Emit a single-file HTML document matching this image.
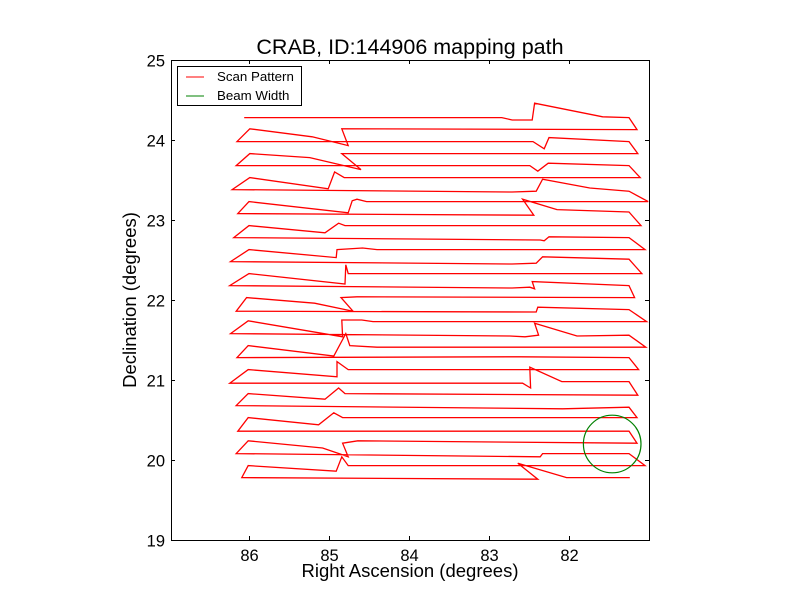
<!DOCTYPE html>
<html><head><meta charset="utf-8"><style>
body{margin:0;background:#fff;}
svg{display:block;font-family:"Liberation Sans","DejaVu Sans",sans-serif;}
</style></head><body>
<svg id="chart" width="800" height="600">
<rect width="800" height="600" fill="#fff"/>
<text x="410" y="54" font-size="21.5" text-anchor="middle">CRAB, ID:144906 mapping path</text>
<g id="plot"></g>
<g id="axes"></g>
<text x="410" y="577" font-size="18.5" text-anchor="middle">Right Ascension (degrees)</text>
<text x="136" y="300" font-size="18.5" text-anchor="middle" transform="rotate(-90 136 300)">Declination (degrees)</text>
<g>
<rect x="177.5" y="66.5" width="124" height="39" fill="#fff" stroke="#000" stroke-width="1"/>
<line x1="186" y1="77" x2="204" y2="77" stroke="#f00"/>
<text x="217" y="81" font-size="13.3">Scan Pattern</text>
<line x1="186" y1="96" x2="204" y2="96" stroke="#008000"/>
<text x="217" y="100" font-size="13.3">Beam Width</text>
</g>
</svg>
<script>
const xTicks = [86, 85, 84, 83, 82];
const yTicks = [19, 20, 21, 22, 23, 24, 25];
const xLim = [86.975, 81.0];
const yLim = [19, 25];
const scanRA = [86.06,82.84,82.71,82.46,82.43,81.58,81.25,
81.15,84.84,84.76,85.21,85.99,
86.15,82.45,82.31,82.25,81.25,
81.14,84.84,84.60,85.24,85.99,
86.16,82.49,82.39,82.26,81.25,
81.11,84.81,84.93,85.01,85.99,
86.21,82.71,82.41,82.33,81.74,81.25,
81.01,84.53,84.65,84.71,84.76,86.00,
86.14,82.44,82.58,82.15,81.25,
81.10,84.80,84.88,85.05,86.00,
86.19,82.36,82.31,82.25,81.25,
81.05,84.40,84.58,84.90,84.91,86.00,
86.23,82.71,82.41,82.33,81.25,
81.09,84.76,84.79,84.80,86.00,
86.24,82.71,82.49,82.43,82.46,81.25,
81.18,84.65,84.85,84.70,85.18,86.03,
86.16,82.41,82.39,81.25,
81.03,84.45,84.59,84.84,84.83,86.01,
86.23,82.74,82.55,82.38,82.43,81.90,81.25,
81.04,84.40,84.74,84.79,84.94,86.01,
86.15,82.61,81.25,
81.13,84.76,84.90,84.90,86.01,
86.24,82.58,82.48,82.49,82.09,81.25,
81.14,84.80,84.88,85.05,86.01,
86.16,82.08,81.25,
81.15,84.83,84.94,85.13,86.01,
86.14,81.25,
81.15,84.64,84.83,84.76,85.08,86.01,
86.16,82.36,82.33,81.25,
81.05,84.76,84.84,84.91,86.01,
86.09,82.39,82.64,82.03,81.24];
const scanDec = [24.28,24.28,24.25,24.25,24.46,24.29,24.28,
24.13,24.14,23.93,24.04,24.14,
23.98,23.98,23.89,24.03,23.98,
23.83,23.83,23.63,23.78,23.83,
23.68,23.68,23.61,23.71,23.68,
23.53,23.53,23.60,23.39,23.53,
23.38,23.35,23.36,23.51,23.40,23.36,
23.23,23.23,23.26,23.24,23.09,23.23,
23.08,23.06,23.26,23.13,23.10,
22.93,22.93,22.96,22.84,22.93,
22.78,22.75,22.74,22.79,22.78,
22.63,22.63,22.65,22.63,22.53,22.63,
22.48,22.45,22.46,22.54,22.51,
22.33,22.33,22.44,22.20,22.33,
22.18,22.15,22.16,22.14,22.23,22.18,
22.03,22.04,22.03,21.86,21.96,22.03,
21.86,21.85,21.91,21.88,
21.73,21.73,21.75,21.75,21.54,21.74,
21.58,21.55,21.54,21.56,21.71,21.55,21.56,
21.41,21.41,21.43,21.58,21.30,21.43,
21.28,21.29,21.28,
21.13,21.13,21.23,21.04,21.13,
20.96,20.96,20.90,21.16,20.98,20.98,
20.81,20.83,20.90,20.76,20.83,
20.68,20.64,20.66,
20.53,20.53,20.59,20.44,20.53,
20.36,20.36,
20.21,20.24,20.21,20.04,20.15,20.24,
20.08,20.04,20.08,20.08,
19.93,19.93,20.04,19.86,19.93,
19.78,19.76,19.96,19.78,19.78];
const beamRA = [81.46];
const beamDec = [20.20];
const beamRadius = [0.36];

const X0 = 171, X1 = 649, Y0 = 60, Y1 = 540;
function sx(v){ return X0 + (v - xLim[0]) / (xLim[1] - xLim[0]) * (X1 - X0); }
function sy(v){ return Y1 - (v - yLim[0]) / (yLim[1] - yLim[0]) * (Y1 - Y0); }
const NS = 'http://www.w3.org/2000/svg';
const plot = document.getElementById('plot');
const axes = document.getElementById('axes');

let d = '';
for (let i = 0; i < scanRA.length; i++) {
  d += (i ? 'L' : 'M') + sx(scanRA[i]).toFixed(1) + ' ' + sy(scanDec[i]).toFixed(1);
}
const path = document.createElementNS(NS, 'path');
path.setAttribute('d', d);
path.setAttribute('fill', 'none');
path.setAttribute('stroke', '#f00');
path.setAttribute('stroke-width', '1.3');
path.setAttribute('stroke-linejoin', 'miter');


plot.appendChild(path);

for (let i = 0; i < beamRA.length; i++) {
  const c = document.createElementNS(NS, 'circle');
  c.setAttribute('cx', sx(beamRA[i]));
  c.setAttribute('cy', sy(beamDec[i]));
  c.setAttribute('r', Math.abs(sx(beamRA[i] + beamRadius[i]) - sx(beamRA[i])));
  c.setAttribute('fill', 'none');
  c.setAttribute('stroke', '#008000');
  c.setAttribute('stroke-width', '1.2');
  
  
  plot.appendChild(c);
}

const frame = document.createElementNS(NS, 'rect');
frame.setAttribute('x', X0 + 0.5); frame.setAttribute('y', Y0 + 0.5);
frame.setAttribute('width', X1 - X0); frame.setAttribute('height', Y1 - Y0);
frame.setAttribute('fill', 'none'); frame.setAttribute('stroke', '#000');


axes.appendChild(frame);

xTicks.forEach(t => {
  const x = Math.round(sx(t)) + 0.5;
  [[Y1, Y1 - 4], [Y0, Y0 + 4]].forEach(p => {
    const l = document.createElementNS(NS, 'line');
    l.setAttribute('x1', x); l.setAttribute('x2', x);
    l.setAttribute('y1', p[0]); l.setAttribute('y2', p[1]);
    l.setAttribute('stroke', '#000');
    
    
    axes.appendChild(l);
  });
  const tx = document.createElementNS(NS, 'text');
  tx.setAttribute('x', x); tx.setAttribute('y', Y1 + 21);
  tx.setAttribute('font-size', '16.5'); tx.setAttribute('text-anchor', 'middle');
  tx.textContent = t;
  
  
  axes.appendChild(tx);
});
yTicks.forEach(t => {
  const y = Math.round(sy(t)) + 0.5;
  [[X0, X0 + 4], [X1, X1 - 4]].forEach(p => {
    const l = document.createElementNS(NS, 'line');
    l.setAttribute('y1', y); l.setAttribute('y2', y);
    l.setAttribute('x1', p[0]); l.setAttribute('x2', p[1]);
    l.setAttribute('stroke', '#000');
    
    
    axes.appendChild(l);
  });
  const tx = document.createElementNS(NS, 'text');
  tx.setAttribute('x', X0 - 6); tx.setAttribute('y', y + 6);
  tx.setAttribute('font-size', '16.5'); tx.setAttribute('text-anchor', 'end');
  tx.textContent = t;
  
  
  axes.appendChild(tx);
});
</script>
</body></html>
